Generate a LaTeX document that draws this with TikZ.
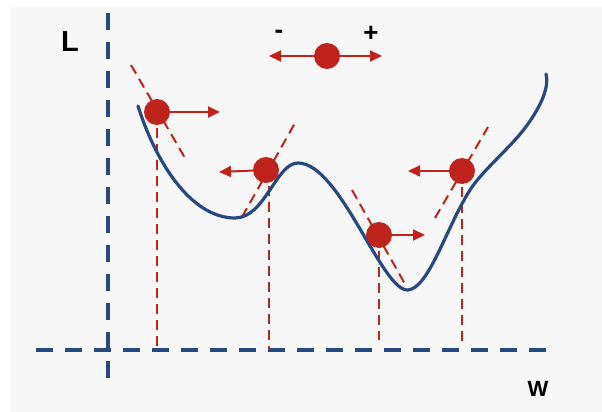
\documentclass[tikz,border=0pt]{standalone}
\usepackage{fontspec}
\setmainfont{Liberation Sans}
\usetikzlibrary{arrows.meta}
\definecolor{myred}{RGB}{192,35,28}
\definecolor{myblue}{RGB}{40,72,130}
\definecolor{bggrey}{RGB}{247,247,247}
\begin{document}
\begin{tikzpicture}[x=1pt,y=-1pt,
  ball/.style={circle,fill=myred,inner sep=0pt,minimum size=26pt},
  axisline/.style={draw=myblue,line width=3.5pt,dash pattern=on 17pt off 12pt},
  guide/.style={draw=myred,line width=2pt,dash pattern=on 10pt off 6pt},
  push/.style={draw=myred,line width=2pt,-{Triangle[length=12pt,width=11pt]}},
  curveline/.style={draw=myblue,line width=3.2pt,line cap=round},
  lbl/.style={font=\bfseries,inner sep=0pt}]
\useasboundingbox (0,0) rectangle (602,412);
\fill[white] (0,0) rectangle (602,412);
\fill[bggrey] (10,7) rectangle (602,412);
% axes
\coordinate (yt) at (108,13);
\coordinate (yb) at (108,378);
\coordinate (xl) at (36,350);
\coordinate (xr) at (546,350);
\draw[axisline] (yt) -- (yb);
\draw[axisline] (xl) -- (xr);
\node[lbl,font=\bfseries\fontsize{29}{29}\selectfont] (L) at (70,42) {L};
\node[lbl,font=\bfseries\fontsize{22}{22}\selectfont] (W) at (538,389) {W};
% balls positions
\coordinate (p0) at (327,56);
\coordinate (p1) at (157,112);
\coordinate (p2) at (266,170);
\coordinate (p3) at (379,235);
\coordinate (p4) at (462,171);
% tangent lines
\coordinate (t1a) at (131,65);  \coordinate (t1b) at (185,158);
\coordinate (t2a) at (242,217); \coordinate (t2b) at (295,123);
\coordinate (t3a) at (352,190); \coordinate (t3b) at (405,284);
\coordinate (t4a) at (435,218); \coordinate (t4b) at (488,127);
\draw[guide] (t1a) -- (t1b);
\draw[guide] (t2a) -- (t2b);
\draw[guide] (t3a) -- (t3b);
\draw[guide] (t4a) -- (t4b);
% vertical drops
\coordinate (d1) at (157,350);
\coordinate (d2) at (269,350);
\coordinate (d3) at (379,340);
\coordinate (d4) at (462,346);
\draw[guide] (p1) -- (d1);
\draw[guide] (269,170) -- (d2);
\draw[guide] (p3) -- (d3);
\draw[guide] (p4) -- (d4);
% loss curve
\draw[curveline] (138,106)
  .. controls (155,160) and (190,218) .. (235,218)
  .. controls (265,218) and (276,163) .. (298,163)
  .. controls (340,163) and (382,292) .. (408,290)
  .. controls (429,288) and (446,228) .. (470,190)
  .. controls (482,171) and (510,148) .. (525,128)
  .. controls (537,112) and (550,90) .. (546,74);
% arrows
\coordinate (a0l) at (269,56);
\coordinate (a0r) at (382,56);
\coordinate (a1) at (220,112);
\coordinate (a2) at (219,172);
\coordinate (a3) at (425,235);
\coordinate (a4) at (408,171);
\draw[push] (p0) -- (a0l);
\draw[push] (p0) -- (a0r);
\draw[push] (p1) -- (a1);
\draw[push] (p2) -- (a2);
\draw[push] (p3) -- (a3);
\draw[push] (p4) -- (a4);
% balls
\node[ball] (b0) at (p0) {};
\node[ball] (b1) at (p1) {};
\node[ball] (b2) at (p2) {};
\node[ball] (b3) at (p3) {};
\node[ball] (b4) at (p4) {};
\node[lbl,font=\bfseries\fontsize{26}{26}\selectfont] (minus) at (279,34) {-};
\node[lbl,font=\bfseries\fontsize{26}{26}\selectfont] (plus) at (371,34) {+};
\end{tikzpicture}
\end{document}
